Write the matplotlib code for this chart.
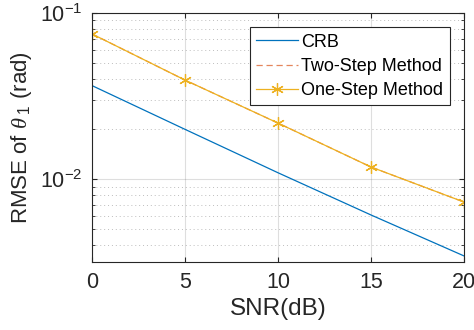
import matplotlib
matplotlib.use("Agg")
import matplotlib.pyplot as plt
import numpy as np

plt.rcParams['font.family'] = ['Liberation Sans', 'DejaVu Sans']
plt.rcParams['mathtext.fontset'] = 'custom'
plt.rcParams['mathtext.it'] = 'Liberation Serif:italic'
plt.rcParams['mathtext.rm'] = 'Liberation Sans'

snr = [0, 5, 10, 15, 20]
crb = [0.0365, 0.0199, 0.0109, 0.00607, 0.00344]
two_step = [0.0747, 0.0394, 0.0217, 0.0118, 0.00726]
one_step = [0.0747, 0.0394, 0.0217, 0.0118, 0.00726]

fig = plt.figure(figsize=(4.74, 3.3), dpi=100)
ax = fig.add_axes([0.194, 0.206, 0.785, 0.755])

ax.semilogy(snr, crb, color=(0, 0.447, 0.741), lw=0.9, label="CRB")
ax.semilogy(snr, two_step, color=(0.85, 0.325, 0.098), lw=0.9, ls=(0, (5, 3)),
            alpha=0.7, label="Two-Step Method")
ax.semilogy(snr, one_step, color=(0.929, 0.694, 0.125), lw=0.9,
            marker=(6, 2, 0), ms=9, markeredgewidth=0.9,
            label="One-Step Method")

ax.set_xlim(0, 20)
ax.set_ylim(10 ** -2.5, 0.1)
ax.set_xticks([0, 5, 10, 15, 20])

ax.grid(True, which="major", color=(0.15, 0.15, 0.15), alpha=0.15, lw=0.8)
ax.grid(True, which="minor", axis="y", color=(0.15, 0.15, 0.15), alpha=0.3,
        lw=0.7, ls=(0, (1, 3)))
ax.tick_params(which="both", direction="in", top=True, right=True,
               labelsize=15.5, colors=(0.15, 0.15, 0.15))
ax.tick_params(which="major", pad=7)
ax.tick_params(which="minor", labelleft=False)
for s in ax.spines.values():
    s.set_color((0.15, 0.15, 0.15))
    s.set_linewidth(0.8)

ax.set_xlabel("SNR(dB)", fontsize=17.5, color=(0.15, 0.15, 0.15))
ax.set_ylabel(r"RMSE of $\theta_{\ 1}$ (rad)", fontsize=16,
              color=(0.15, 0.15, 0.15), labelpad=4)

leg = ax.legend(loc="upper right", fontsize=13, fancybox=False,
                edgecolor=(0.15, 0.15, 0.15), framealpha=1,
                handlelength=2.3, handletextpad=0.2, borderaxespad=0.8,
                labelspacing=0.4, borderpad=0.35)
leg.get_frame().set_linewidth(0.8)

fig.savefig("out.png", dpi=100)
